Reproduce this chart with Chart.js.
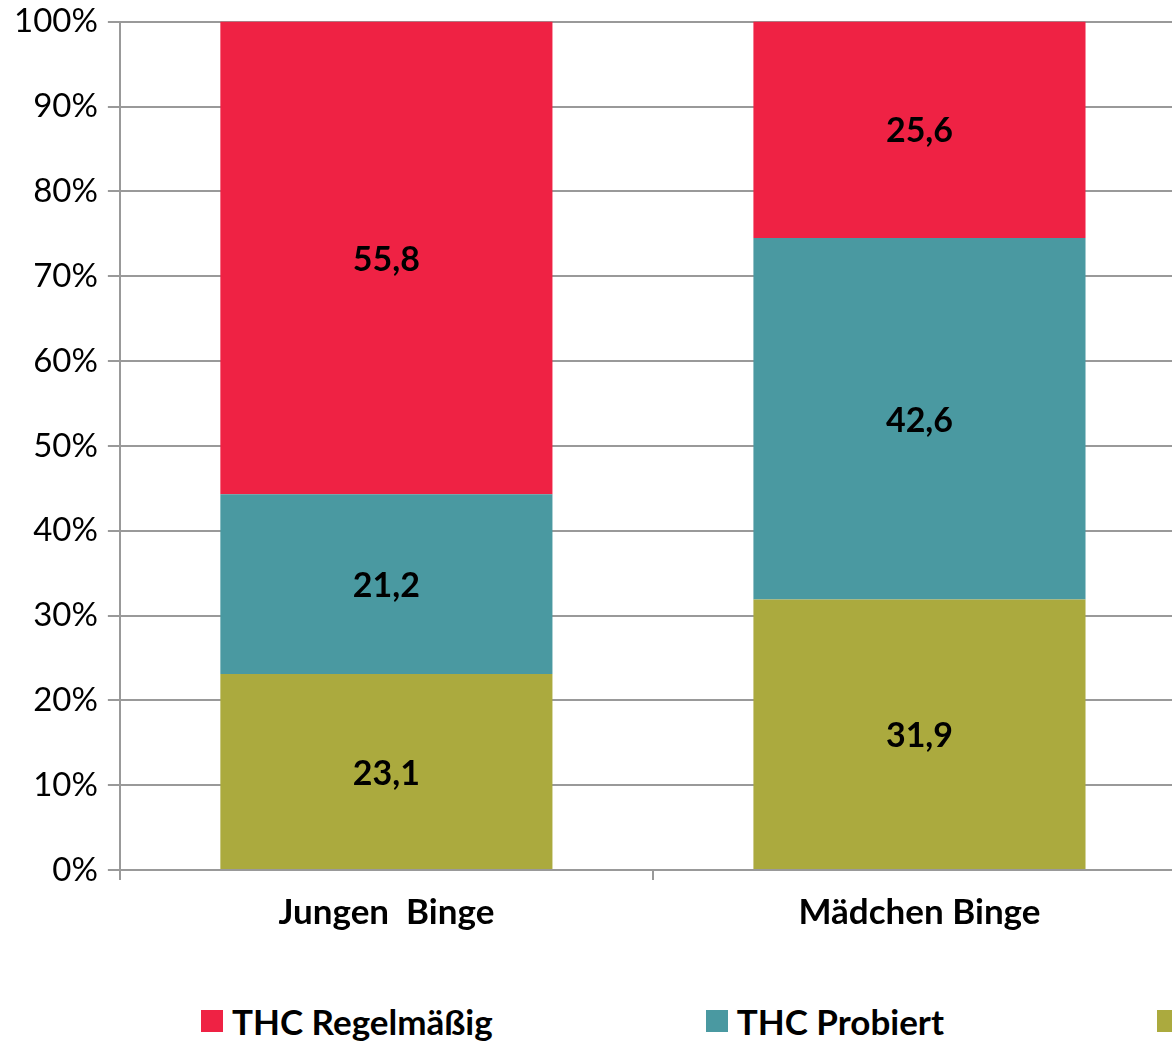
<!DOCTYPE html>
<html lang="de">
<head>
<meta charset="utf-8">
<title>THC-Konsum bei Binge-Trinkern</title>
<script src="https://cdn.jsdelivr.net/npm/chart.js@4.4.1/dist/chart.umd.min.js"></script>
<style>
    html, body { margin: 0; padding: 0; background: #fff; overflow: hidden; width: 1172px; height: 1042px; }
    #wrap { position: absolute; left: 0; top: -8px; width: 1200px; height: 962px; }
    #legend { position: absolute; left: 201px; top: 1000px; display: flex; gap: 213px; white-space: nowrap;
              font-family: Lato, sans-serif; font-weight: bold; font-size: 35px; line-height: 42px; color: #000; }
    #legend .item { display: flex; align-items: center; }
    #legend .box { width: 22px; height: 22px; margin-right: 9px; }
</style>
</head>
<body>
<div id="wrap"><canvas id="thcChart"></canvas></div>
<div id="legend"></div>
<script>
// Daten (Anteile in %)
const categories = ['Jungen  Binge', 'Mädchen Binge'];
const seriesNames = ['THC Regelmäßig', 'THC Probiert', 'Kein THC'];
const thcRegelmaessig = [55.8, 25.6];
const thcProbiert = [21.2, 42.6];
const keinThc = [23.1, 31.9];

const colors = {
    regelmaessig: '#EF2244',
    probiert: '#4A99A1',
    kein: '#ABAA3E'
};

// Werte in die Balken schreiben
const valueLabels = {
    id: 'valueLabels',
    afterDatasetsDraw(chart) {
        const ctx = chart.ctx;
        ctx.save();
        ctx.font = 'bold 34px Lato';
        ctx.fillStyle = '#000';
        ctx.textAlign = 'center';
        ctx.textBaseline = 'middle';
        chart.data.datasets.forEach((ds, i) => {
            chart.getDatasetMeta(i).data.forEach((bar, j) => {
                const p = bar.getCenterPoint();
                ctx.fillText(ds.data[j].toFixed(1).replace('.', ','), p.x, p.y + 2);
            });
        });
        ctx.restore();
    }
};

const ctx = document.getElementById('thcChart').getContext('2d');
const chart = new Chart(ctx, {
    type: 'bar',
    data: {
        labels: categories,
        datasets: [
            { label: seriesNames[2], data: keinThc, backgroundColor: colors.kein },
            { label: seriesNames[1], data: thcProbiert, backgroundColor: colors.probiert },
            { label: seriesNames[0], data: thcRegelmaessig, backgroundColor: colors.regelmaessig }
        ]
    },
    options: {
        responsive: true,
        maintainAspectRatio: false,
        animation: false,
        datasets: {
            bar: { barPercentage: 0.623, categoryPercentage: 1 }
        },
        layout: {
            padding: { left: 4, right: 14, top: 2, bottom: 8 }
        },
        plugins: {
            legend: { display: false },
            tooltip: { enabled: false }
        },
        scales: {
            x: {
                stacked: true,
                grid: { offset: true, drawOnChartArea: false, tickLength: 10, color: '#999', lineWidth: 2 },
                border: { color: '#999', width: 2 },
                ticks: { color: '#000', padding: 12, font: { family: 'Lato', size: 35, weight: 'bold' } }
            },
            y: {
                stacked: true,
                min: 0,
                max: 100,
                grid: { color: '#999', lineWidth: 2, tickLength: 12 },
                border: { color: '#999', width: 2 },
                ticks: {
                    stepSize: 10,
                    padding: 10,
                    color: '#000',
                    font: { family: 'Lato', size: 33 },
                    callback: function(value) { return value + '%'; }
                }
            }
        }
    },
    plugins: [valueLabels]
});

// Legende (Reihenfolge wie im Original: oberste Serie zuerst)
const legend = document.getElementById('legend');
chart.data.datasets.slice().reverse().forEach(ds => {
    const item = document.createElement('div');
    item.className = 'item';
    const box = document.createElement('span');
    box.className = 'box';
    box.style.background = ds.backgroundColor;
    const text = document.createElement('span');
    text.textContent = ds.label;
    item.appendChild(box);
    item.appendChild(text);
    legend.appendChild(item);
});
</script>
</body>
</html>
